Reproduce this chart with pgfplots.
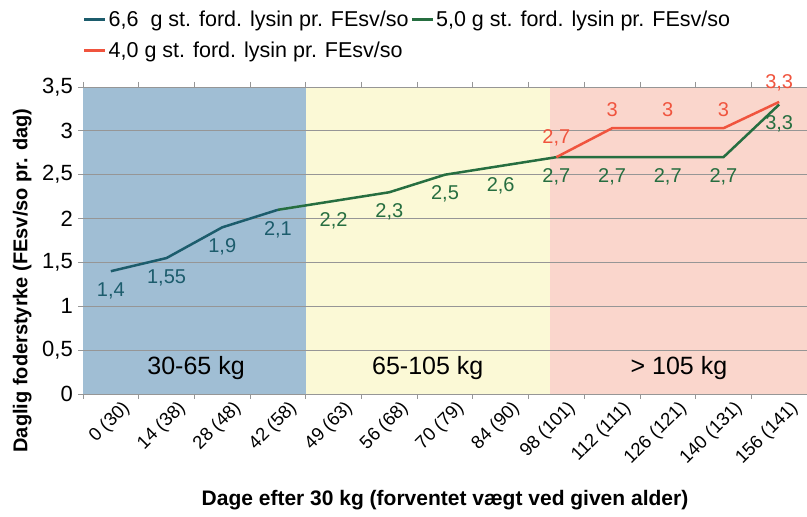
\documentclass[border=0pt]{standalone}
\usepackage{fontspec}
\setmainfont{Liberation Sans}
\usepackage{pgfplots}
\pgfplotsset{compat=1.18}
\definecolor{teal1}{RGB}{28,92,108}
\definecolor{green1}{RGB}{38,110,64}
\definecolor{red1}{RGB}{240,84,62}
\definecolor{bgblue}{RGB}{160,190,212}
\definecolor{bgyellow}{RGB}{251,249,214}
\definecolor{bgred}{RGB}{250,214,204}
\definecolor{gridc}{RGB}{150,150,150}
\begin{document}
\begin{tikzpicture}
\begin{axis}[
  at={(83bp,123bp)}, anchor=south west,
  scale only axis, width=724bp, height=307bp,
  xmin=-0.5, xmax=12.5, ymin=0, ymax=3.5,
  set layers=standard,
  axis line style={draw=none},
  ytick={0,0.5,...,3.5},
  ymajorgrids, grid style={gridc, line width=0.8bp},
  tick align=outside,
  major y tick style={gridc, line width=0.8bp},
  major tick length=5bp,
  xtick={0,...,12},
  major x tick style={draw=none},
  minor xtick={-0.5,0.5,...,12.5},
  minor x tick style={gridc, line width=0.8bp},
  minor tick length=5bp,
  xticklabels={0 (30),14 (38),28 (48),42 (58),49 (63),56 (68),70 (79),84 (90),98 (101),112 (111),126 (121),140 (131),156 (141)},
  x tick label style={rotate=45, anchor=north east, font=\fontsize{18.5bp}{18.5bp}\selectfont, inner sep=1bp, xshift=8bp, yshift=-6bp},
  y tick label style={font=\fontsize{22bp}{22bp}\selectfont, inner sep=1bp, xshift=-4bp},
  /pgf/number format/.cd, use comma, assume math mode=true, /pgfplots/.cd,
  xlabel={Dage efter 30 kg (forventet vægt ved given alder)},
  xlabel style={font=\bfseries\fontsize{21bp}{21bp}\selectfont, at={(axis description cs:0.5,-0.345)}, anchor=center},
  ylabel={Daglig foderstyrke (FEsv/so pr. dag)},
  ylabel style={font=\bfseries\fontsize{20bp}{20bp}\selectfont, at={(axis description cs:-0.084,0.37)}, anchor=center, rotate=0},
  legend style={at={(axis description cs:0.0,1.255)}, anchor=north west, draw=none, fill=none,
    font=\fontsize{21.5bp}{21.5bp}\selectfont, /tikz/every even column/.append style={column sep=0bp},
    row sep=10bp, inner sep=0bp},
  legend columns=2,
  legend cell align=left,
  legend image code/.code={\draw[#1,line width=2.5bp] (0bp,0bp) -- (21bp,0bp);},
]
\addplot[on layer=axis background, fill=bgblue, draw=none, forget plot] coordinates {(-0.5,0) (3.5,0) (3.5,3.5) (-0.5,3.5)} -- cycle;
\addplot[on layer=axis background, fill=bgyellow, draw=none, forget plot] coordinates {(3.5,0) (7.88,0) (7.88,3.5) (3.5,3.5)} -- cycle;
\addplot[on layer=axis background, fill=bgred, draw=none, forget plot] coordinates {(7.88,0) (12.5,0) (12.5,3.5) (7.88,3.5)} -- cycle;

\addplot[teal1, line width=2.5bp, no marks, point meta=explicit symbolic,
  nodes near coords, nodes near coords style={font=\fontsize{20bp}{20bp}\selectfont, text=teal1, anchor=north, yshift=-10bp, inner sep=0bp}]
  table[meta=lab] {
x y lab
0 1.4 1,4
1 1.55 1,55
2 1.9 1,9
3 2.1 2,1
};
\addlegendentry{6,6~ g st. ford. lysin pr. FEsv/so}
\addplot[green1, line width=2.5bp, no marks, point meta=explicit symbolic,
  nodes near coords, nodes near coords style={font=\fontsize{20bp}{20bp}\selectfont, text=green1, anchor=north, yshift=-10bp, inner sep=0bp}]
  table[meta=lab] {
x y lab
3 2.1 {}
4 2.2 2,2
5 2.3 2,3
6 2.5 2,5
7 2.6 2,6
8 2.7 2,7
9 2.7 2,7
10 2.7 2,7
11 2.7 2,7
12 3.3 3,3
};
\addlegendentry{5,0 g st. ford. lysin pr. FEsv/so}
\addplot[red1, line width=2.5bp, no marks, point meta=explicit symbolic,
  nodes near coords, nodes near coords style={font=\fontsize{20bp}{20bp}\selectfont, text=red1, anchor=south, yshift=10bp, inner sep=0bp}]
  table[meta=lab] {
x y lab
8 2.7 2,7
9 3.03 3
10 3.03 3
11 3.03 3
12 3.33 3,3
};
\addlegendentry{4,0 g st. ford. lysin pr. FEsv/so}

\node[font=\fontsize{25bp}{25bp}\selectfont] at (axis cs:1.53,0.30) {30-65 kg};
\node[font=\fontsize{25bp}{25bp}\selectfont] at (axis cs:5.69,0.30) {65-105 kg};
\node[font=\fontsize{25bp}{25bp}\selectfont] at (axis cs:10.2,0.30) {> 105 kg};
\end{axis}
\pgfresetboundingbox
\path[use as bounding box] (0,0) rectangle (807bp,517bp);
\end{tikzpicture}
\end{document}
